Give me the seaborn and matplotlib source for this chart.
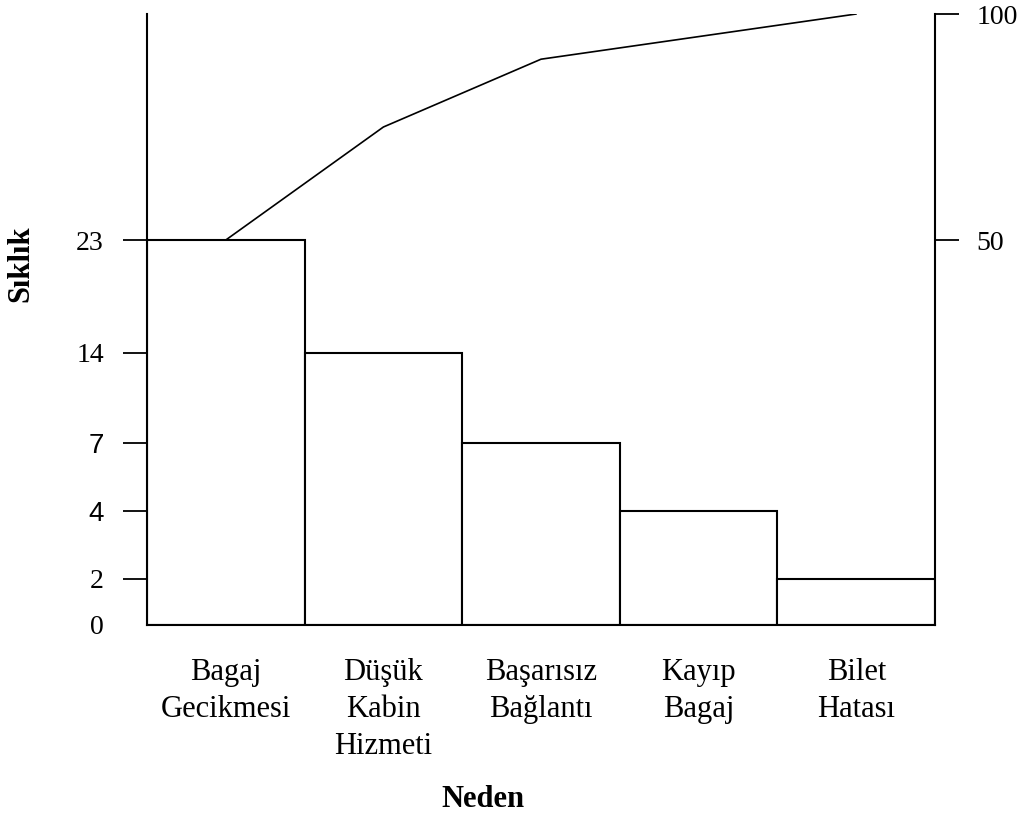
import numpy as np
import matplotlib
matplotlib.use("Agg")
import matplotlib.pyplot as plt
import seaborn as sns

# data
causes = ["Bagaj\nGecikmesi", "Düşük\nKabin\nHizmeti", "Başarısız\nBağlantı",
          "Kayıp\nBagaj", "Bilet\nHatası"]
counts = [23, 14, 7, 4, 2]
cum_pct = [50, 75, 90, 95, 100]

left_ticks = [0, 2, 4, 7, 14, 23]
right_ticks = [50, 100]

# the original axes are not linear: knots of value -> axes fraction
left_knots_v = [0, 2, 4, 7, 14, 23, 50]
left_knots_p = [0, 0.0753, 0.1866, 0.2979, 0.4452, 0.6301, 1.0]
right_knots_v = [0, 50, 100]
right_knots_p = [0, 0.6301, 1.0]


def piecewise_scale(kv, kp):
    fwd = lambda v: np.interp(v, kv, kp)
    inv = lambda p: np.interp(p, kp, kv)
    return fwd, inv


sns.set_style("white")
plt.rcParams['font.family'] = ['Liberation Serif', 'DejaVu Serif']
plt.rcParams['font.size'] = 20
for k in ["text.color", "axes.labelcolor", "xtick.color", "ytick.color"]:
    plt.rcParams[k] = "black"

fig = plt.figure(figsize=(10.18, 8.14), dpi=100)
ax = fig.add_axes([147 / 1018, 1 - 625 / 814, 788 / 1018, 611 / 814])

sns.barplot(x=causes, y=counts, ax=ax, color="white", saturation=1,
            edgecolor="black", linewidth=1.5, width=1)
ax.set_xlim(-0.5, len(causes) - 0.5)
ax.set_yscale("function", functions=piecewise_scale(left_knots_v, left_knots_p))
ax.set_ylim(0, 50)
ax.set_yticks(left_ticks, [str(t) for t in left_ticks])
ax.tick_params(axis="y", length=17, width=1.3, pad=14, labelsize=20, left=True)
ax.tick_params(axis="x", length=0, pad=24, labelsize=22)
for lab in ax.get_yticklabels():
    if lab.get_text() in ("7", "4"):
        lab.set_fontfamily("Liberation Sans")
for lab in ax.get_xticklabels():
    lab.set_linespacing(1.35)

for s in ["top", "right"]:
    ax.spines[s].set_visible(False)
for s in ["left", "bottom"]:
    ax.spines[s].set_linewidth(1.5)
    ax.spines[s].set_color("black")

ax.set_ylabel("Sıklık", fontweight="bold", fontsize=22)
ax.yaxis.set_label_coords(-0.142, 0.592)
ax.set_xlabel("Neden", fontweight="bold", fontsize=22)
ax.xaxis.set_label_coords(0.426, -0.262)

ax2 = ax.twinx()
sns.lineplot(x=np.arange(len(causes)), y=cum_pct, ax=ax2, color="black", linewidth=1.2)
ax2.set_yscale("function", functions=piecewise_scale(right_knots_v, right_knots_p))
ax2.set_ylim(0, 100)
ax2.set_yticks(right_ticks, [str(t) for t in right_ticks])
ax2.tick_params(axis="y", length=17, width=1.3, pad=13, labelsize=20, right=True)
for s in ["top", "left", "bottom"]:
    ax2.spines[s].set_visible(False)
ax2.spines["right"].set_linewidth(1.5)
ax2.spines["right"].set_color("black")
ax2.set_ylabel("")

# no tick mark at the corner for 0
fig.canvas.draw()
ax.yaxis.get_major_ticks()[0].tick1line.set_visible(False)

fig.savefig("out.png", dpi=100)
